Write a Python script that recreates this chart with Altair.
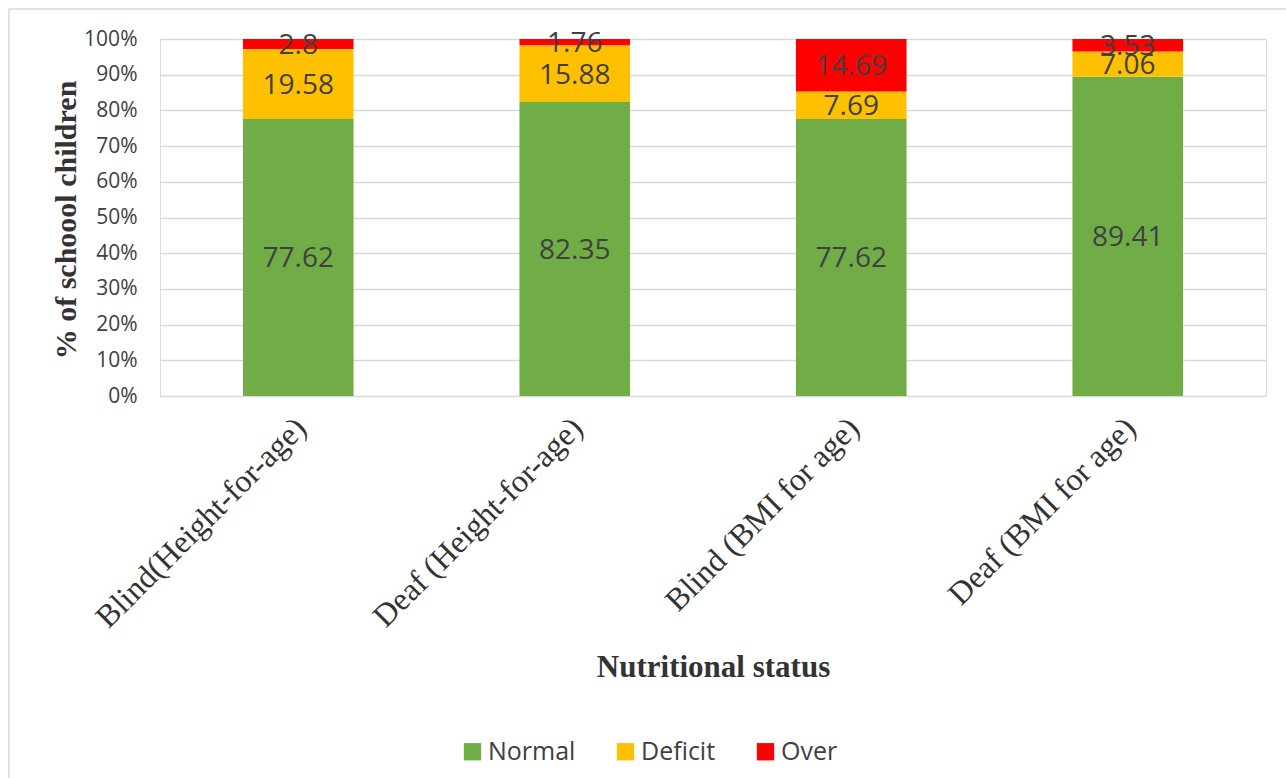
import altair as alt
import pandas as pd

categories = ["Blind(Height-for-age)", "Deaf (Height-for-age)", "Blind (BMI for age)", "Deaf (BMI for age)"]
statuses = ["Normal", "Deficit", "Over"]
normal = [77.62, 82.35, 77.62, 89.41]
deficit = [19.58, 15.88, 7.69, 7.06]
over = [2.8, 1.76, 14.69, 3.53]
colors = ["#70AD47", "#FFC000", "#FF0000"]
y_ticks = [0, 0.1, 0.2, 0.3, 0.4, 0.5, 0.6, 0.7, 0.8, 0.9, 1.0]

rows = []
for i, c in enumerate(categories):
    for j, (s, vals) in enumerate(zip(statuses, [normal, deficit, over])):
        rows.append({"cat": c, "status": s, "idx": j, "value": vals[i], "label": str(vals[i])})
df = pd.DataFrame(rows)

W, H = 1106, 357
serif = "Liberation Serif"
sans = "Open Sans"

base = alt.Chart(df).transform_stack(
    stack="value", groupby=["cat"], sort=[alt.SortField("idx", order="ascending")],
    as_=["y0", "y1"], offset="normalize"
).transform_calculate(mid="(datum.y0 + datum.y1) / 2")

xaxis = alt.Axis(
    title="Nutritional status", labelAngle=-45, labelFont=serif, labelFontSize=32,
    labelColor="#333333", labelPadding=16, labelOffset=-8, ticks=False, domain=False,
    labelLimit=0, labelOverlap=False,
    titleFont=serif, titleFontSize=31, titleFontWeight="bold", titleColor="#333333",
    titleX=W / 2, titleY=271, titleBaseline="middle", titleAlign="center",
)
yaxis = alt.Axis(
    title="% of schoool children", format=".0%", values=y_ticks, tickCount=11,
    labelFont=sans, labelFontSize=21, labelColor="#404040", labelPadding=23,
    labelOverlap=False, labelFlush=False,
    ticks=False, domain=False, grid=True, gridColor="#D9D9D9", gridWidth=1.5,
    titleFont=serif, titleFontSize=30, titleFontWeight="bold", titleColor="#333333",
    titleAngle=-90, titleX=-94, titleY=180.5, titleAlign="center", titleBaseline="middle",
)
xscale = alt.Scale(paddingInner=0.6, paddingOuter=0.3)
yscale = alt.Scale(domain=[0, 1])

bars = base.mark_bar().encode(
    x=alt.X("cat:N", sort=categories, scale=xscale, axis=xaxis),
    y=alt.Y("y0:Q", scale=yscale, axis=yaxis),
    y2="y1:Q",
    color=alt.Color(
        "status:N", sort=statuses,
        scale=alt.Scale(domain=statuses, range=colors),
        legend=alt.Legend(
            title=None, orient="none", direction="horizontal", legendX=300, legendY=700,
            symbolType="square", symbolSize=300, symbolStrokeWidth=0, symbolOpacity=1,
            labelFont=sans, labelFontSize=25, labelColor="#404040", labelOffset=3,
            columnPadding=37, padding=0,
        ),
    ),
)

texts = base.mark_text(font=sans, fontSize=28, color="#404040", baseline="middle", align="center", dy=2).encode(
    x=alt.X("cat:N", sort=categories, scale=xscale, axis=xaxis),
    y=alt.Y("mid:Q", scale=yscale, axis=yaxis),
    text="label:N",
)

border = alt.Chart(pd.DataFrame({"k": [0]})).mark_rect(
    fill=None, stroke="#D9D9D9", strokeWidth=1.5
).encode(
    x=alt.value(-151), x2=alt.value(1200), y=alt.value(-30), y2=alt.value(800)
)

chart = alt.layer(border, bars, texts).properties(
    width=W, height=H,
    autosize=alt.AutoSizeParams(type="none"),
    padding={"left": 160, "top": 39, "right": 20, "bottom": 382},
).configure_view(stroke=None).configure(background="white")

chart.save("out.html", embed_options={"renderer": "svg", "actions": False})
